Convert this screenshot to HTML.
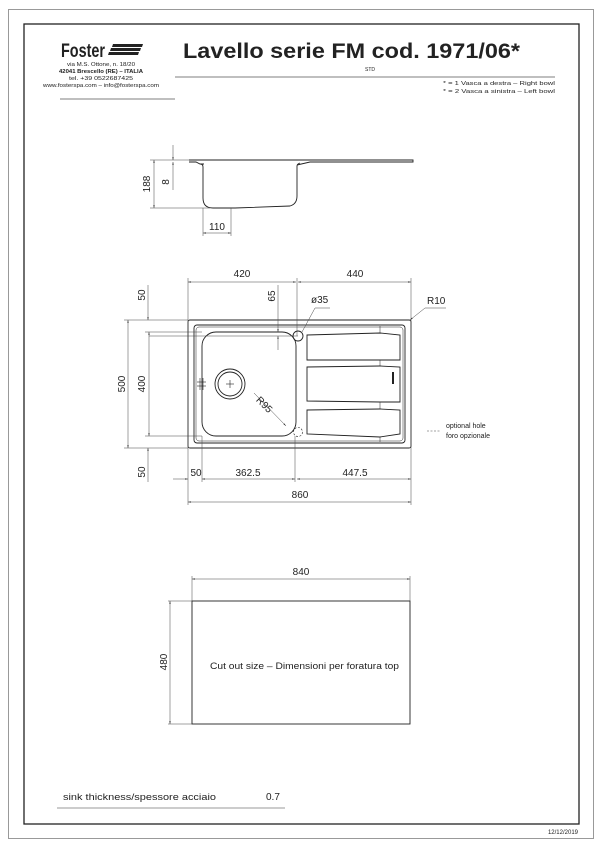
<!DOCTYPE html>
<html><head><meta charset="utf-8"><style>
html,body{margin:0;padding:0;background:#fff}
svg{display:block}
text{font-family:"Liberation Sans",sans-serif;fill:#222}
.t{font-size:10px}
</style></head><body>
<svg width="600" height="849" viewBox="0 0 600 849" xmlns="http://www.w3.org/2000/svg">
<defs>
<marker id="a" viewBox="0 0 10 10" refX="10" refY="5" markerWidth="6" markerHeight="6" orient="auto-start-reverse"><path d="M0,3 L10,5 L0,7z" fill="#222"/></marker>
</defs>
<rect x="8.5" y="9.5" width="585" height="829" fill="none" stroke="#999" stroke-width="1"/>
<rect x="24" y="24" width="555" height="800" fill="none" stroke="#222" stroke-width="1.3"/>
<!-- header -->
<text x="61" y="57" font-size="19" font-weight="bold" textLength="44" lengthAdjust="spacingAndGlyphs">Foster</text>
<g fill="#222"><path d="M113,44 h30 l-1,3 h-30z M111,48 h30 l-1,3 h-30z M109,52 h30 l-1,3 h-30z"/></g>
<text x="101" y="66" font-size="5" text-anchor="middle" textLength="68" lengthAdjust="spacingAndGlyphs">via M.S. Ottone, n. 18/20</text>
<text x="101" y="73" font-size="5" font-weight="bold" text-anchor="middle" textLength="84" lengthAdjust="spacingAndGlyphs">42041 Brescello (RE) – ITALIA</text>
<text x="101" y="80" font-size="5" text-anchor="middle" textLength="64" lengthAdjust="spacingAndGlyphs">tel. +39 0522687425</text>
<text x="101" y="87" font-size="5" text-anchor="middle" textLength="116" lengthAdjust="spacingAndGlyphs">www.fosterspa.com – info@fosterspa.com</text>
<line x1="60" y1="99" x2="175" y2="99" stroke="#555" stroke-width="0.8"/>
<text x="183" y="58" font-size="21" font-weight="bold" textLength="337" lengthAdjust="spacingAndGlyphs">Lavello serie FM  cod. 1971/06*</text>
<text x="365" y="71" font-size="5">STD</text>
<line x1="175" y1="77" x2="555" y2="77" stroke="#555" stroke-width="0.8"/>
<text x="555" y="85" font-size="5.5" text-anchor="end" textLength="112" lengthAdjust="spacingAndGlyphs">* = 1 Vasca a destra – Right bowl</text>
<text x="555" y="93" font-size="5.5" text-anchor="end" textLength="112" lengthAdjust="spacingAndGlyphs">* = 2 Vasca a sinistra – Left bowl</text>
<!-- side profile -->
<g fill="none" stroke="#222" stroke-width="0.9">
<path d="M189,160 H413 V162 H310 L297,165 M189,162 H196 L200,164 H204"/>
<path d="M200,164 Q203,164 203,167 V198 Q203,208 213,208 H235 L290,206 Q297,204 297,196 V166 Q297,164 300,163"/>
</g>
<g stroke="#444" stroke-width="0.5" fill="none">
<line x1="150" y1="160" x2="189" y2="160"/><line x1="150" y1="208" x2="210" y2="208"/>
<line x1="154" y1="160" x2="154" y2="208" marker-start="url(#a)" marker-end="url(#a)"/>
<line x1="173" y1="145" x2="173" y2="160" marker-end="url(#a)"/><line x1="173" y1="162" x2="173" y2="190" marker-start="url(#a)"/>
<line x1="203" y1="208" x2="203" y2="236"/><line x1="231" y1="208" x2="231" y2="236"/>
<line x1="203" y1="233" x2="231" y2="233" marker-start="url(#a)" marker-end="url(#a)"/>
</g>
<text x="0" y="0" class="t" transform="translate(150,184) rotate(-90)" text-anchor="middle">188</text>
<text x="0" y="0" class="t" transform="translate(169,182) rotate(-90)" text-anchor="middle">8</text>
<text x="217" y="230" class="t" text-anchor="middle">110</text>
<!-- top view sink -->
<g fill="none" stroke="#222" stroke-width="0.9">
<rect x="188" y="320" width="223" height="128" rx="2"/>
<rect x="194" y="325" width="211" height="118" rx="3"/>
<rect x="196" y="327" width="207" height="114" rx="3" stroke-width="0.5"/>
<rect x="202" y="332" width="94" height="104" rx="14"/>
<circle cx="230" cy="384" r="15"/><circle cx="230" cy="384" r="12"/>
<circle cx="298" cy="336" r="5"/>
<circle cx="298" cy="432" r="4.5" stroke-dasharray="2,1.5" stroke-width="0.6"/>
<path d="M307,335 L380,333 L400,335 V360 L380,360 L307,360Z"/>
<path d="M307,367 L380,366 L400,367 V402 L380,402 L307,401Z"/>
<path d="M307,410 L380,409 L400,410 V434 L380,437 L307,434Z"/>
<path d="M380,326 V333 M380,360 V366 M380,402 V409 M380,437 V442" stroke-width="0.5"/>
</g>
<line x1="230" y1="380" x2="230" y2="388" stroke="#222" stroke-width="0.6"/><line x1="226" y1="384" x2="234" y2="384" stroke="#222" stroke-width="0.6"/>
<rect x="392" y="372" width="2" height="12" fill="#222"/>
<g stroke="#222" stroke-width="0.6"><line x1="200" y1="378" x2="200" y2="390"/><line x1="203" y1="378" x2="203" y2="390"/><line x1="197" y1="382" x2="206" y2="382"/><line x1="197" y1="386" x2="206" y2="386"/></g>
<!-- dims top view -->
<g stroke="#444" stroke-width="0.5" fill="none">
<line x1="188" y1="278" x2="188" y2="505"/><line x1="411" y1="278" x2="411" y2="505"/><line x1="297" y1="278" x2="297" y2="336"/>
<line x1="188" y1="282" x2="296" y2="282" marker-start="url(#a)" marker-end="url(#a)"/>
<line x1="298" y1="282" x2="411" y2="282" marker-start="url(#a)" marker-end="url(#a)"/>
<line x1="278" y1="285" x2="278" y2="332" marker-end="url(#a)"/><line x1="278" y1="336" x2="278" y2="350" marker-start="url(#a)"/>
<line x1="149" y1="336" x2="298" y2="336"/>
<line x1="302" y1="332" x2="315" y2="308"/><line x1="315" y1="308" x2="330" y2="308"/>
<line x1="410" y1="320" x2="425" y2="308" marker-start="url(#a)"/><line x1="425" y1="308" x2="446" y2="308"/>
<line x1="124" y1="320" x2="188" y2="320"/><line x1="124" y1="448" x2="188" y2="448"/>
<line x1="145" y1="332" x2="202" y2="332"/><line x1="145" y1="436" x2="202" y2="436"/>
<line x1="128" y1="320" x2="128" y2="448" marker-start="url(#a)" marker-end="url(#a)"/>
<line x1="149" y1="332" x2="149" y2="436" marker-start="url(#a)" marker-end="url(#a)"/>
<line x1="148" y1="285" x2="148" y2="320" marker-end="url(#a)"/><line x1="148" y1="448" x2="148" y2="482" marker-start="url(#a)"/>
<line x1="254" y1="393" x2="286" y2="426" marker-end="url(#a)"/>
<line x1="202" y1="436" x2="202" y2="482"/><line x1="295" y1="436" x2="295" y2="482"/>
<line x1="173" y1="479" x2="188" y2="479" marker-end="url(#a)"/>
<line x1="202" y1="479" x2="295" y2="479" marker-start="url(#a)" marker-end="url(#a)"/>
<line x1="297" y1="479" x2="411" y2="479" marker-start="url(#a)" marker-end="url(#a)"/>
<line x1="188" y1="502" x2="411" y2="502" marker-start="url(#a)" marker-end="url(#a)"/>
<line x1="427" y1="431" x2="441" y2="431" stroke-dasharray="2,1.5"/>
</g>
<text x="242" y="277" class="t" text-anchor="middle">420</text>
<text x="355" y="277" class="t" text-anchor="middle">440</text>
<text x="0" y="0" class="t" transform="translate(275,296) rotate(-90)" text-anchor="middle">65</text>
<text x="311" y="303" class="t">ø35</text>
<text x="427" y="304" class="t">R10</text>
<text x="0" y="0" class="t" transform="translate(145,295) rotate(-90)" text-anchor="middle">50</text>
<text x="0" y="0" class="t" transform="translate(125,384) rotate(-90)" text-anchor="middle">500</text>
<text x="0" y="0" class="t" transform="translate(145,384) rotate(-90)" text-anchor="middle">400</text>
<text x="0" y="0" class="t" transform="translate(145,472) rotate(-90)" text-anchor="middle">50</text>
<text x="0" y="0" class="t" transform="translate(262,407) rotate(45)" text-anchor="middle">R95</text>
<text x="196" y="476" class="t" text-anchor="middle">50</text>
<text x="248" y="476" class="t" text-anchor="middle">362.5</text>
<text x="355" y="476" class="t" text-anchor="middle">447.5</text>
<text x="300" y="498" class="t" text-anchor="middle">860</text>
<text x="446" y="428" font-size="7">optional hole</text>
<text x="446" y="438" font-size="7">foro opzionale</text>
<!-- cutout -->
<rect x="192" y="601" width="218" height="123" fill="none" stroke="#222" stroke-width="0.9"/>
<g stroke="#444" stroke-width="0.5" fill="none">
<line x1="192" y1="576" x2="192" y2="601"/><line x1="410" y1="576" x2="410" y2="601"/>
<line x1="192" y1="579" x2="410" y2="579" marker-start="url(#a)" marker-end="url(#a)"/>
<line x1="168" y1="601" x2="192" y2="601"/><line x1="168" y1="724" x2="192" y2="724"/>
<line x1="170" y1="601" x2="170" y2="724" marker-start="url(#a)" marker-end="url(#a)"/>
</g>
<text x="301" y="575" class="t" text-anchor="middle">840</text>
<text x="0" y="0" class="t" transform="translate(167,662) rotate(-90)" text-anchor="middle">480</text>
<text x="210" y="669" font-size="9" textLength="189" lengthAdjust="spacingAndGlyphs">Cut out size – Dimensioni per foratura top</text>
<text x="63" y="800" font-size="9.5" textLength="153" lengthAdjust="spacingAndGlyphs">sink thickness/spessore acciaio</text>
<text x="266" y="800" font-size="10">0.7</text>
<line x1="57" y1="808" x2="285" y2="808" stroke="#777" stroke-width="0.8"/>
<text x="578" y="834" font-size="6" text-anchor="end">12/12/2019</text>
</svg>
</body></html>
